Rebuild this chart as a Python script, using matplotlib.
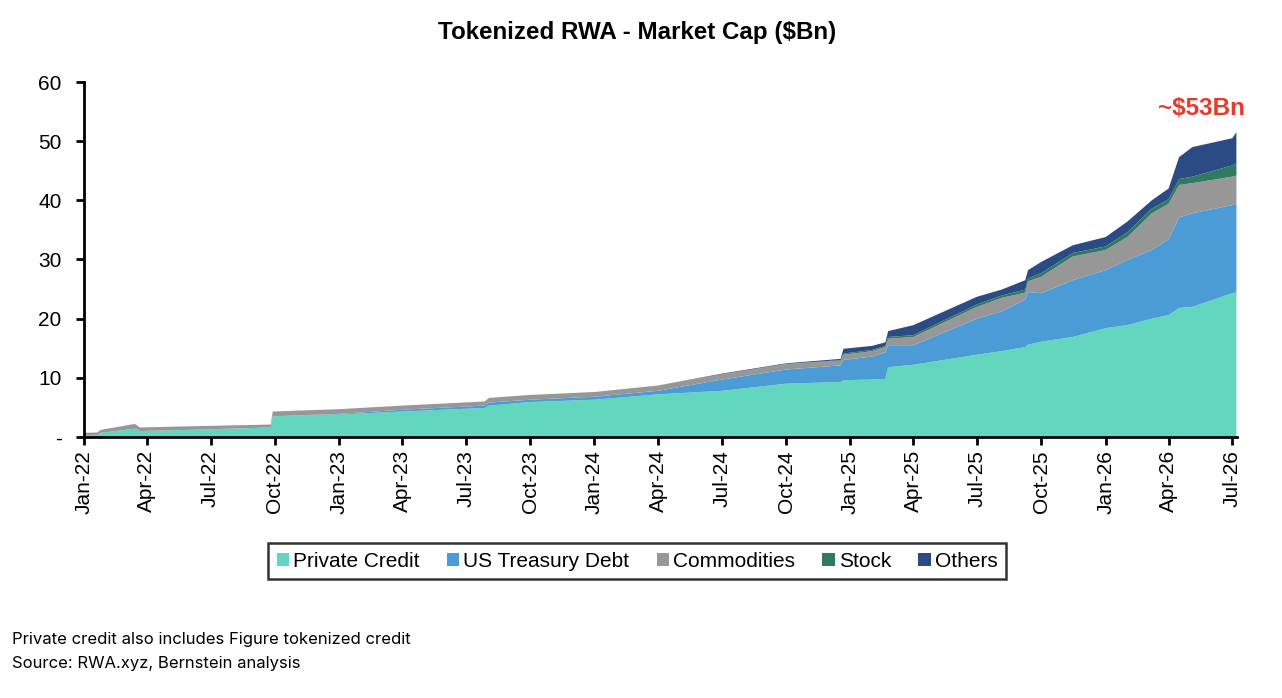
import numpy as np
import pandas as pd
import matplotlib
matplotlib.use("Agg")
import matplotlib.pyplot as plt
import matplotlib.dates as mdates
from matplotlib.ticker import FuncFormatter
from matplotlib.patches import Patch

plt.rcParams['font.family'] = ['Liberation Sans', 'DejaVu Sans']

# -------------------------
# data ($Bn)
# -------------------------
dates = [
    "2022-01-01", "2022-01-20", "2022-01-25", "2022-03-15", "2022-03-22",
    "2022-06-01", "2022-09-25", "2022-09-28", "2023-01-01", "2023-04-01",
    "2023-07-28", "2023-08-03", "2023-10-01", "2024-01-01", "2024-04-01",
    "2024-07-01", "2024-10-01", "2024-12-18", "2024-12-22", "2025-02-01",
    "2025-02-20", "2025-02-24", "2025-04-01", "2025-07-01", "2025-08-05",
    "2025-09-08", "2025-09-12", "2025-10-01", "2025-11-15", "2026-01-01",
    "2026-02-01", "2026-03-08", "2026-04-01", "2026-04-16", "2026-05-05",
    "2026-07-01", "2026-07-07",
]
private_credit = [0.3, 0.35, 0.7, 1.4, 1.0, 1.2, 1.6, 3.5, 3.8, 4.3,
                  4.9, 5.3, 5.9, 6.3, 7.2, 7.8, 9.0, 9.3, 9.6, 9.7,
                  9.8, 11.8, 12.2, 13.9, 14.5, 15.2, 15.6, 16.1, 16.9, 18.4,
                  18.9, 20.0, 20.6, 21.8, 22.0, 24.3, 24.5]
us_treasury = [0.0, 0.0, 0.0, 0.0, 0.0, 0.0, 0.0, 0.0, 0.1, 0.3,
               0.4, 0.5, 0.4, 0.5, 0.6, 1.9, 2.4, 2.8, 3.4, 3.9,
               4.5, 3.7, 3.3, 6.1, 6.7, 8.0, 8.9, 8.2, 9.6, 9.8,
               11.0, 11.6, 12.8, 15.3, 15.8, 14.9, 15.0]
commodities = [0.4, 0.4, 0.5, 0.8, 0.6, 0.6, 0.5, 0.8, 0.8, 0.7,
               0.7, 0.8, 0.8, 0.8, 0.9, 0.9, 0.9, 0.8, 0.9, 0.9,
               0.9, 1.1, 1.4, 2.0, 2.3, 1.2, 1.8, 2.8, 4.0, 3.4,
               3.9, 6.2, 6.0, 5.5, 5.1, 4.8, 4.7]
stock = [0.0, 0.0, 0.0, 0.0, 0.0, 0.0, 0.0, 0.0, 0.0, 0.0,
         0.0, 0.0, 0.0, 0.0, 0.0, 0.0, 0.05, 0.1, 0.2, 0.2,
         0.2, 0.3, 0.3, 0.4, 0.4, 0.5, 0.5, 0.6, 0.6, 0.6,
         0.8, 0.8, 0.8, 1.0, 1.1, 1.9, 2.0]
others = [0.0, 0.0, 0.0, 0.0, 0.0, 0.0, 0.0, 0.0, 0.0, 0.0,
          0.0, 0.0, 0.0, 0.0, 0.0, 0.1, 0.1, 0.2, 0.8, 0.7,
          0.6, 1.0, 1.7, 1.3, 1.0, 1.6, 1.4, 1.9, 1.3, 1.6,
          1.8, 1.4, 1.8, 3.7, 5.0, 4.6, 5.3]

labels = ["Private Credit", "US Treasury Debt", "Commodities", "Stock", "Others"]
colors = ["#62d6be", "#4b9bd6", "#979797", "#2f7a62", "#2b4b85"]

x = pd.to_datetime(dates)

# -------------------------
# figure
# -------------------------
fig = plt.figure(figsize=(12.82, 6.98), dpi=100)
ax = fig.add_axes([0.0655, 0.374, 0.8995, 0.5085])

ax.stackplot(x, private_credit, us_treasury, commodities, stock, others,
             colors=colors, linewidth=0)

ax.set_ylim(0, 60)
ax.set_yticks(range(0, 61, 10))
ax.yaxis.set_major_formatter(FuncFormatter(lambda v, p: "-" if v == 0 else f"{v:.0f}"))

ax.set_xlim(pd.Timestamp("2022-01-01"), pd.Timestamp("2026-07-08"))
ax.xaxis.set_major_locator(mdates.MonthLocator(bymonth=[1, 4, 7, 10]))
ax.xaxis.set_major_formatter(mdates.DateFormatter("%b-%y"))
for lbl in ax.get_xticklabels():
    lbl.set_rotation(90)

for side in ["top", "right"]:
    ax.spines[side].set_visible(False)
for side in ["left", "bottom"]:
    ax.spines[side].set_linewidth(2)
ax.tick_params(axis="both", width=2, length=6, labelsize=15, color="black")
ax.tick_params(axis="y", pad=10)

ax.set_title("Tokenized RWA - Market Cap ($Bn)", fontsize=17.4, fontweight="bold",
             x=0.4795, y=1.121, pad=0)

ax.text(1.007, 0.925, "~$53Bn", transform=ax.transAxes, ha="right", va="center",
        fontsize=17.5, fontweight="bold", color="#e63a2a")

# legend
handles = [Patch(facecolor=c, edgecolor="none") for c in colors]
leg = fig.legend(handles, labels, loc="center", bbox_to_anchor=(0.497, 0.196),
                 ncol=5, fontsize=15, frameon=True, fancybox=False,
                 handlelength=0.6, handleheight=0.6, handletextpad=0.2,
                 columnspacing=1.3, borderpad=0.4)
leg.get_frame().set_edgecolor("black")
leg.get_frame().set_linewidth(1.8)

# footnotes
fig.text(0.009, 0.084, "Private credit also includes Figure tokenized credit",
         fontsize=12, va="center", family=["Inter", "DejaVu Sans"])
fig.text(0.009, 0.049, "Source: RWA.xyz, Bernstein analysis",
         fontsize=12, va="center", family=["Inter", "DejaVu Sans"])

fig.savefig("out.png", dpi=100)
